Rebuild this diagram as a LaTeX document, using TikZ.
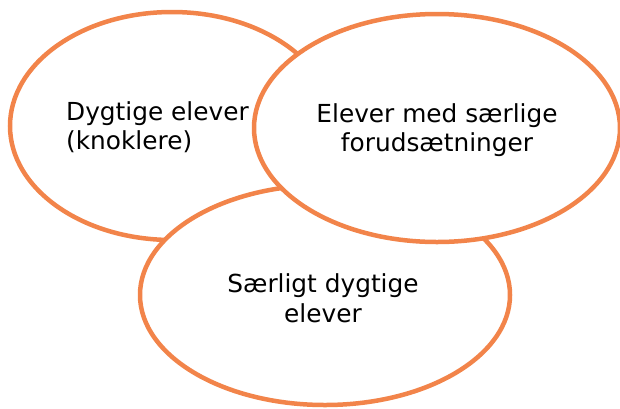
\documentclass[tikz,border=0pt]{standalone}
\usepackage{fontspec}
\setmainfont{DejaVu Sans}
\usetikzlibrary{shapes.geometric}
\definecolor{ringorange}{HTML}{F2844A}
\begin{document}
\begin{tikzpicture}[x=1pt,y=-1pt,
ring/.style={draw=ringorange,line width=4.5pt,ellipse,inner sep=0pt,fill=white},
lbl/.style={font=\fontsize{24.8}{29.5}\selectfont,inner sep=0pt}]
\useasboundingbox (0,0) rectangle (620,408);

\node[ring,minimum width=324pt,minimum height=228pt](dygtige) at (172,126){};

\node[ring,minimum width=370pt,minimum height=220pt](saerligt) at (325,295){};

\node[ring,minimum width=366pt,minimum height=228pt](forud) at (437,128){};

\node[lbl,align=left,anchor=west](labd) at (66,127){Dygtige elever\\(knoklere)};

\node[lbl,align=center](labf) at (437,130){Elever med særlige\\forudsætninger};

\node[lbl,align=center](labs) at (323,298){Særligt dygtige\\elever};
\end{tikzpicture}
\end{document}
